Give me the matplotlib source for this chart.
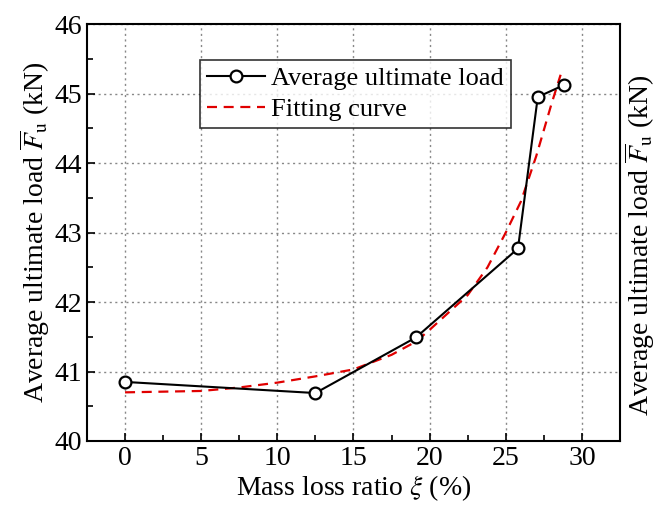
import numpy as np
import matplotlib.pyplot as plt
from matplotlib.ticker import MultipleLocator

plt.rcParams['font.family'] = 'Liberation Serif'
plt.rcParams['mathtext.fontset'] = 'stix'

# measured averages
mass_loss = [0.0, 12.5, 19.1, 25.8, 27.1, 28.8]
ult_load = [40.85, 40.69, 41.49, 42.77, 44.95, 45.12]

# fitted curve samples
fit_x = [0.0, 2.5, 5.0, 7.5, 10.0, 12.5, 15.0, 17.5, 19.1, 20.0, 22.5, 23.8, 25.0,
         26.0, 27.0, 28.0, 28.6]
fit_y = [40.70, 40.71, 40.72, 40.77, 40.84, 40.93, 41.03, 41.24, 41.43, 41.60,
         42.10, 42.50, 43.00, 43.45, 44.10, 44.85, 45.27]

ylab = r'Average ultimate load $\overline{F}_{\mathrm{u}}$ (kN)'

fig = plt.figure(figsize=(6.57, 5.09), dpi=100)
ax = fig.add_axes([0.1324, 0.1336, 0.8113, 0.8192])

ax.plot(mass_loss, ult_load, '-o', color='black', lw=1.5, ms=8.5, mew=1.6,
        mfc='white', label='Average ultimate load', zorder=3)
ax.plot(fit_x, fit_y, '--', color='#e00000', lw=1.6, dashes=(4.5, 3),
        label='Fitting curve', zorder=2)

ax.set_xlim(-2.5, 32.5)
ax.set_ylim(40, 46)
ax.xaxis.set_major_locator(MultipleLocator(5))
ax.xaxis.set_minor_locator(MultipleLocator(2.5))
ax.yaxis.set_major_locator(MultipleLocator(1))
ax.yaxis.set_minor_locator(MultipleLocator(0.5))
ax.tick_params(which='both', direction='in', top=False, right=False,
               labelsize=20, width=1.2)
ax.tick_params(which='major', length=6)
ax.tick_params(which='minor', length=4)
ax.grid(True, which='major', color='#888888', ls=(0, (1.5, 2.5)), lw=1.0)
for s in ax.spines.values():
    s.set_linewidth(1.5)

ax.set_xlabel(r'Mass loss ratio $\xi$ (%)', fontsize=20, labelpad=2)
ax.set_ylabel(ylab, fontsize=20, labelpad=2)
# same label repeated on the right-hand side
ax.text(1.037, 0.47, ylab, transform=ax.transAxes, rotation=90,
        ha='center', va='center', fontsize=20)

leg = ax.legend(loc='upper left', bbox_to_anchor=(0.212, 0.914), fontsize=19,
                frameon=True, fancybox=False, edgecolor='black',
                handlelength=2.2, borderpad=0.25, labelspacing=0.3,
                handletextpad=0.25, borderaxespad=0)
leg.get_frame().set_linewidth(1.2)

fig.savefig('out.png', dpi=100)
